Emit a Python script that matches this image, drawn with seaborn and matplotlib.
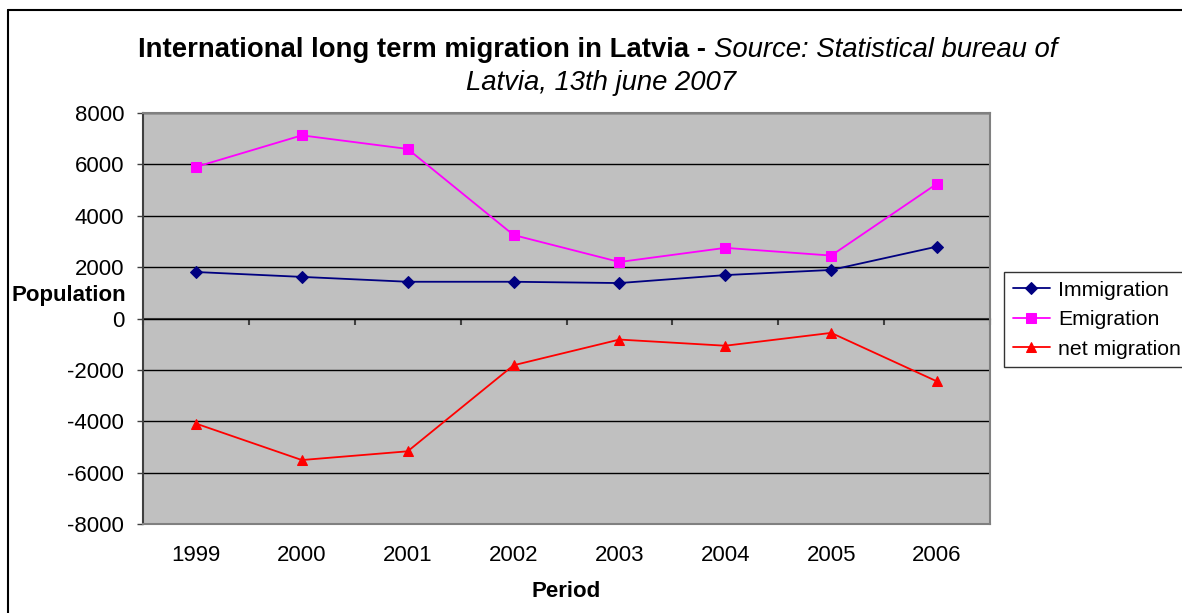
"""
International long term migration in Latvia - line chart rebuilt with seaborn.
"""

import numpy as np
import pandas as pd
import matplotlib
matplotlib.use("Agg")
import matplotlib.pyplot as plt
from matplotlib.lines import Line2D
import seaborn as sns

# data
years = ["1999", "2000", "2001", "2002", "2003", "2004", "2005", "2006"]
immigration = [1810, 1620, 1430, 1430, 1380, 1690, 1890, 2800]
emigration = [5900, 7130, 6600, 3250, 2200, 2750, 2450, 5250]
net_migration = [-4090, -5510, -5170, -1820, -820, -1060, -560, -2450]
series_names = ["Immigration", "Emigration", "net migration"]
y_ticks = [-8000, -6000, -4000, -2000, 0, 2000, 4000, 6000, 8000]

df = pd.DataFrame({
    "pos": list(range(len(years))) * 3,
    "value": immigration + emigration + net_migration,
    "series": np.repeat(series_names, len(years)),
})

sns.set_style("white")
plt.rcParams["font.family"] = ["Liberation Sans", "DejaVu Sans"]
plt.rcParams["text.color"] = "black"
plt.rcParams["axes.labelcolor"] = "black"
plt.rcParams["xtick.color"] = "black"
plt.rcParams["ytick.color"] = "black"

W, H = 1182, 613
fig = plt.figure(figsize=(W / 100, H / 100), dpi=100)
ax = fig.add_axes([143 / W, 1 - 524 / H, (990 - 143) / W, (524 - 113) / H])
ax.set_facecolor("#c0c0c0")

palette = {"Immigration": "#000080", "Emigration": "#ff00ff", "net migration": "#ff0000"}
markers = {"Immigration": "D", "Emigration": "s", "net migration": "^"}
sizes = {"Immigration": 6, "Emigration": 7, "net migration": 7.5}

for name in series_names:
    sub = df[df["series"] == name]
    sns.lineplot(data=sub, x="pos", y="value", color=palette[name], marker=markers[name],
                 markersize=sizes[name], markeredgecolor=palette[name], linewidth=1.3,
                 label=name, ax=ax, zorder=3)

ax.set_xlim(-0.5, len(years) - 0.5)
ax.set_ylim(-8000, 8000)
ax.set_yticks(y_ticks)
ax.set_yticklabels([str(v) for v in y_ticks], fontsize=16)
ax.yaxis.grid(True, color="black", linewidth=1)
ax.set_axisbelow(True)
ax.tick_params(axis="y", direction="out", length=4.5, width=1, color="#404040", pad=9, left=True)

ax.set_xticks(range(len(years)))
ax.set_xticklabels(years, fontsize=16)
ax.tick_params(axis="x", length=0, pad=15)
ax.set_xlabel("Period", fontsize=16, fontweight="bold", labelpad=11)
ax.set_ylabel("")

for side in ["top", "right", "bottom"]:
    ax.spines[side].set_color("#808080")
    ax.spines[side].set_linewidth(1.5)
ax.spines["left"].set_color("#404040")
ax.spines["left"].set_linewidth(1.5)

# category axis drawn through zero with ticks between categories
zero_axis = ax.secondary_xaxis(0.4999)
zero_axis.set_xticks(np.arange(-0.5, len(years), 1.0))
zero_axis.set_xticklabels([])
zero_axis.tick_params(direction="out", length=4.5, width=1.5, color="#404040")
for side in ["top", "bottom"]:
    zero_axis.spines[side].set_color("#404040")
    zero_axis.spines[side].set_linewidth(1.5)

fig.text(12 / W, 1 - 295 / H, "Population", fontsize=16, fontweight="bold", va="center", ha="left")

handles, labels = ax.get_legend_handles_labels()
ax.get_legend().remove()
leg = fig.legend(handles, labels, loc="upper left", bbox_to_anchor=(1004 / W, 1 - 272 / H),
                 fontsize=15.3, frameon=True, fancybox=False, edgecolor="black",
                 borderpad=0.4, labelspacing=0.5, handlelength=1.75, handletextpad=0.38,
                 borderaxespad=0)
leg.get_frame().set_linewidth(1)

# title: bold part followed by italic part, then a second italic line
fig.canvas.draw()
renderer = fig.canvas.get_renderer()
t_bold = fig.text(0, 1 - 50 / H, "International long term migration in Latvia - ", fontsize=19.8,
                  fontweight="bold", va="center", ha="left")
t_ital = fig.text(0, 1 - 50 / H, "Source: Statistical bureau of", fontsize=19.8,
                  fontstyle="italic", va="center", ha="left")
wb = t_bold.get_window_extent(renderer).width
wi = t_ital.get_window_extent(renderer).width
start = 598 - (wb + wi) / 2
t_bold.set_x(start / W)
t_ital.set_x((start + wb) / W)
fig.text(601 / W, 1 - 83 / H, "Latvia, 13th june 2007", fontsize=19.8, fontstyle="italic",
         va="center", ha="center")

# outer chart border (left and top edges visible)
fig.add_artist(Line2D([8 / W, 8 / W], [0, 1 - 10 / H], color="black", linewidth=1.5))
fig.add_artist(Line2D([8 / W, 1], [1 - 10 / H, 1 - 10 / H], color="black", linewidth=1.5))

fig.savefig("out.png", dpi=100)
